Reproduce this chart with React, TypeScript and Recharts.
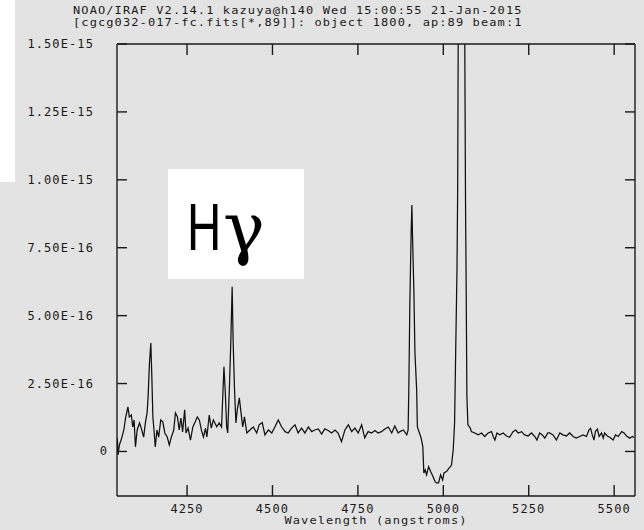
import { LineChart, Line, XAxis, YAxis, ReferenceLine } from 'recharts';

// wavelength in angstroms, flux in units of 1e-16
const wavelength = [
  4046, 4048, 4052, 4057, 4065, 4070, 4077, 4081, 4087, 4091,
  4095, 4099, 4104, 4111, 4116, 4123, 4128, 4133, 4136, 4140,
  4144, 4147, 4150, 4154, 4157, 4162, 4167, 4173, 4179, 4185,
  4192, 4198, 4204, 4211, 4216, 4222, 4227, 4232, 4237, 4243,
  4247, 4253, 4260, 4267, 4274, 4280, 4286, 4292, 4298, 4304,
  4308, 4315, 4321, 4327, 4337, 4344, 4351, 4358, 4362, 4366,
  4369, 4374, 4378, 4382, 4385, 4389, 4393, 4397, 4403, 4408,
  4413, 4418, 4425, 4434, 4444, 4454, 4461, 4470, 4478, 4488,
  4498, 4507, 4517, 4527, 4537, 4546, 4556, 4566, 4575, 4585,
  4595, 4605, 4615, 4624, 4634, 4644, 4653, 4663, 4673, 4683,
  4692, 4702, 4712, 4722, 4732, 4741, 4751, 4761, 4770, 4780,
  4790, 4800, 4809, 4819, 4829, 4839, 4849, 4858, 4868, 4873,
  4883, 4893, 4897, 4899, 4902, 4906, 4908, 4910, 4914, 4917,
  4922, 4924, 4930, 4935, 4940, 4943, 4947, 4951, 4957, 4963,
  4970, 4976, 4980, 4986, 4992, 4998, 5002, 5009, 5017, 5024,
  5029, 5033, 5036, 5040, 5042, 5045, 5061, 5065, 5067, 5069,
  5072, 5079, 5082, 5092, 5102, 5112, 5121, 5131, 5141, 5146,
  5151, 5157, 5165, 5175, 5185, 5194, 5204, 5212, 5219, 5229,
  5238, 5248, 5258, 5268, 5274, 5282, 5290, 5297, 5306, 5311,
  5321, 5331, 5341, 5350, 5360, 5370, 5380, 5389, 5399, 5409,
  5419, 5426, 5431, 5436, 5441, 5445, 5451, 5456, 5463, 5468,
  5472, 5480, 5487, 5497, 5504, 5512, 5522, 5529, 5536, 5546,
  5553, 5558,
];

const flux = [
  0.5, -0.13, 0.24, 0.42, 0.79, 1.23, 1.64, 1.27, 1.34, 0.9,
  1.16, 0.17, 0.79, 1.05, 0.86, 0.53, 1.05, 1.42, 2.0, 3.26,
  3.99, 2.74, 1.27, 0.68, 0.17, 0.79, 0.53, 1.16, 1.09, 0.68,
  0.53, 0.24, 0.53, 0.79, 1.42, 1.27, 0.79, 1.23, 0.72, 1.53,
  0.68, 0.86, 0.42, 0.9, 1.09, 1.27, 1.16, 0.79, 0.53, 0.86,
  0.53, 1.34, 0.86, 1.16, 0.91, 1.05, 0.9, 3.12, 2.15, 0.9,
  0.68, 2.38, 3.99, 6.06, 3.99, 2.26, 1.05, 1.53, 1.97, 1.42,
  0.9, 1.27, 0.68, 0.79, 0.9, 0.68, 0.98, 1.06, 0.61, 0.79,
  0.68, 0.9, 1.16, 0.9, 0.73, 0.68, 0.86, 0.98, 0.68, 0.86,
  0.68, 0.9, 0.73, 0.79, 0.83, 0.64, 0.83, 0.77, 0.68, 0.79,
  0.68, 0.36, 0.79, 0.98, 0.73, 0.86, 0.68, 0.98, 0.5, 0.73,
  0.68, 0.77, 0.68, 0.73, 0.83, 0.9, 0.68, 0.94, 0.68, 0.73,
  0.79, 0.61, 0.79, 2.26, 5.39, 8.15, 9.07, 7.9, 5.83, 3.62,
  2.26, 0.91, 0.68, 0.5, 0.18, -0.79, -0.68, -0.86, -0.56, -0.74,
  -0.93, -1.11, -1.16, -1.16, -0.86, -1.05, -0.79, -0.74, -0.61, -0.5,
  0.06, 1.05, 3.49, 6.68, 9.62, 20, 20, 9.14, 5.94, 2.02,
  0.98, 0.86, 0.73, 0.68, 0.61, 0.68, 0.55, 0.68, 0.73, 0.55,
  0.42, 0.68, 0.61, 0.68, 0.57, 0.52, 0.73, 0.79, 0.68, 0.73,
  0.61, 0.57, 0.68, 0.55, 0.42, 0.68, 0.61, 0.49, 0.68, 0.68,
  0.61, 0.42, 0.68, 0.61, 0.57, 0.68, 0.55, 0.49, 0.55, 0.61,
  0.55, 0.79, 0.85, 0.61, 0.42, 0.73, 0.82, 0.55, 0.68, 0.49,
  0.68, 0.57, 0.52, 0.42, 0.61, 0.55, 0.73, 0.68, 0.57, 0.49,
  0.55, 0.52,
];

const xTicks = [4250, 4500, 4750, 5000, 5250, 5500];
const yTicks = [0, 2.5, 5, 7.5, 10, 12.5, 15];
const yTickLabels = ['0', '2.50E-16', '5.00E-16', '7.50E-16', '1.00E-15', '1.25E-15', '1.50E-15'];

const titleLines = [
  'NOAO/IRAF V2.14.1 kazuya@h140 Wed 15:00:55 21-Jan-2015',
  '[cgcg032-017-fc.fits[*,89]]: object 1800, ap:89 beam:1',
];
const xLabel = 'Wavelength (angstroms)';

const X_DOMAIN = [4045, 5561];
const Y_DOMAIN = [-1.64, 15];

const W = 644;
const H = 530;
const PLOT_LEFT = 117;
const PLOT_RIGHT = 635;
const PLOT_TOP = 44;
const PLOT_BOTTOM = 496;
const INK = '#1a1a1a';
const FRAME_W = 1.4;
const MONO = "'DejaVu Sans Mono', monospace";

const data = wavelength.map((w, i) => ({ wavelength: w, flux: flux[i] }));

// IRAF-ish squat monospace text for the html overlays
const monoText: any = {
  position: 'absolute',
  fontFamily: MONO,
  fontSize: 12,
  lineHeight: '11px',
  letterSpacing: '1.1px',
  whiteSpace: 'pre',
  color: INK,
  transform: 'scaleY(0.8)',
};

function YTick({ y, payload }: any) {
  const label = yTickLabels[yTicks.indexOf(payload.value)];
  return (
    <g>
      <line x1={PLOT_LEFT} x2={PLOT_LEFT + 10} y1={y} y2={y} stroke={INK} strokeWidth={FRAME_W} />
      <line x1={PLOT_RIGHT - 10} x2={PLOT_RIGHT} y1={y} y2={y} stroke={INK} strokeWidth={FRAME_W} />
      <text
        x={label === '0' ? 108 : 94}
        y={y + 4}
        textAnchor="end"
        fontFamily={MONO}
        fontSize={12}
        fill={INK}
        style={{ letterSpacing: '1.1px' }}
      >
        {label}
      </text>
    </g>
  );
}

function XTick({ x, payload }: any) {
  return (
    <g>
      <line x1={x} x2={x} y1={PLOT_BOTTOM} y2={PLOT_BOTTOM - 11} stroke={INK} strokeWidth={FRAME_W} />
      <line x1={x} x2={x} y1={PLOT_TOP} y2={PLOT_TOP + 11} stroke={INK} strokeWidth={FRAME_W} />
      <text
        x={x}
        y={PLOT_BOTTOM + 17}
        textAnchor="middle"
        fontFamily={MONO}
        fontSize={12}
        fill={INK}
        style={{ letterSpacing: '1.1px' }}
      >
        {payload.value}
      </text>
    </g>
  );
}

export default function App() {
  return (
    <div style={{ position: 'absolute', left: 0, top: 0, width: W, height: H, background: '#e3e3e3', overflow: 'hidden' }}>
      <div style={{ position: 'absolute', left: 0, top: 0, width: 15, height: 182, background: '#fff' }} />
      {titleLines.map((t, i) => (
        <div key={i} style={{ ...monoText, left: 73, top: 6 + i * 11.5 }}>
          {t}
        </div>
      ))}
      <LineChart
        width={W}
        height={H}
        data={data}
        margin={{ top: PLOT_TOP, right: W - PLOT_RIGHT, bottom: 0, left: 0 }}
        style={{ position: 'absolute', left: 0, top: 0 }}
      >
        <XAxis
          dataKey="wavelength"
          type="number"
          domain={X_DOMAIN}
          ticks={xTicks}
          interval={0}
          allowDataOverflow
          height={H - PLOT_BOTTOM}
          tickLine={false}
          tickSize={0}
          tickMargin={0}
          tick={<XTick />}
          axisLine={{ stroke: INK, strokeWidth: FRAME_W }}
        />
        <YAxis
          type="number"
          domain={Y_DOMAIN}
          ticks={yTicks}
          interval={0}
          allowDataOverflow
          width={PLOT_LEFT}
          tickLine={false}
          tickSize={0}
          tickMargin={0}
          tick={<YTick />}
          axisLine={{ stroke: INK, strokeWidth: FRAME_W }}
        />
        <ReferenceLine y={Y_DOMAIN[1]} stroke={INK} strokeWidth={FRAME_W} />
        <ReferenceLine x={X_DOMAIN[1]} stroke={INK} strokeWidth={FRAME_W} />
        <Line
          dataKey="flux"
          type="linear"
          stroke="#111"
          strokeWidth={1.25}
          dot={false}
          isAnimationActive={false}
        />
      </LineChart>
      <div
        style={{
          ...monoText,
          left: PLOT_LEFT,
          width: PLOT_RIGHT - PLOT_LEFT,
          top: 516,
          textAlign: 'center',
        }}
      >
        {xLabel}
      </div>
      <svg
        width={136}
        height={110}
        style={{ position: 'absolute', left: 168, top: 169, background: '#fff' }}
      >
        <text
          transform="translate(19,81) scale(0.72,1)"
          fontFamily="'Liberation Sans', Arial, sans-serif"
          fontSize={66}
          fill="#000"
        >
          H
        </text>
        <text x={55} y={83} fontFamily="'DejaVu Serif', serif" fontSize={70} fill="#000">
          γ
        </text>
      </svg>
    </div>
  );
}
